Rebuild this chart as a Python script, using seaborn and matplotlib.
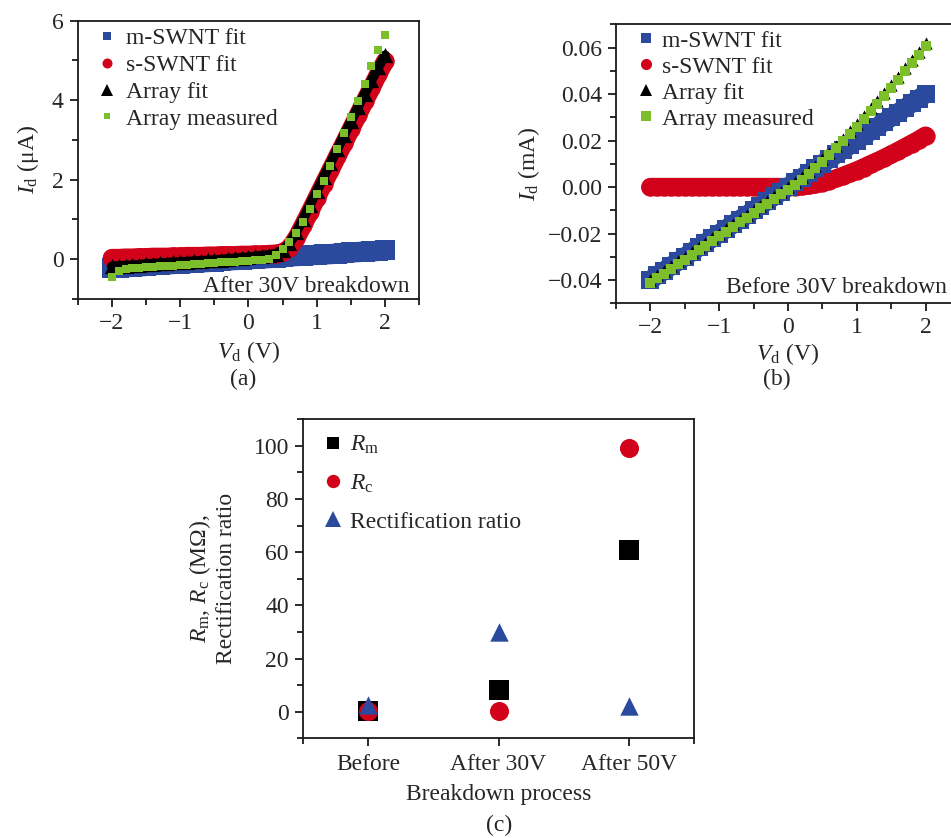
import numpy as np
import pandas as pd
import matplotlib
matplotlib.use('Agg')
import matplotlib.pyplot as plt
import seaborn as sns
from matplotlib.lines import Line2D
from matplotlib.ticker import FixedLocator

# ---------------- data ----------------
VD = [-2.0, -1.9, -1.8, -1.7, -1.6, -1.5, -1.4, -1.3, -1.2, -1.1,
      -1.0, -0.9, -0.8, -0.7, -0.6, -0.5, -0.4, -0.3, -0.2, -0.1,
      0.0, 0.1, 0.2, 0.3, 0.4, 0.5, 0.6, 0.7, 0.8, 0.9,
      1.0, 1.1, 1.2, 1.3, 1.4, 1.5, 1.6, 1.7, 1.8, 1.9, 2.0]

# panel (a): after 30V breakdown, current in uA
A_M_SWNT = [-0.22, -0.21, -0.20, -0.19, -0.18, -0.17, -0.15, -0.14, -0.13, -0.12,
            -0.11, -0.10, -0.09, -0.08, -0.07, -0.06, -0.04, -0.03, -0.02, -0.01,
            0.00, 0.01, 0.02, 0.03, 0.04, 0.06, 0.07, 0.08, 0.09, 0.10,
            0.11, 0.12, 0.13, 0.14, 0.15, 0.17, 0.18, 0.19, 0.20, 0.21, 0.22]
A_S_SWNT = [0.03, 0.03, 0.04, 0.04, 0.05, 0.05, 0.06, 0.06, 0.06, 0.07,
            0.07, 0.08, 0.08, 0.08, 0.09, 0.09, 0.10, 0.10, 0.10, 0.11,
            0.11, 0.12, 0.12, 0.13, 0.14, 0.17, 0.28, 0.53, 0.86, 1.20,
            1.55, 1.90, 2.24, 2.59, 2.93, 3.28, 3.62, 3.97, 4.31, 4.66, 4.98]
A_ARRAY_FIT = [-0.18, -0.17, -0.16, -0.15, -0.14, -0.12, -0.11, -0.10, -0.09, -0.08,
               -0.07, -0.06, -0.05, -0.04, -0.03, -0.02, -0.01, 0.01, 0.02, 0.04,
               0.05, 0.07, 0.09, 0.11, 0.14, 0.22, 0.40, 0.68, 1.02, 1.37,
               1.72, 2.07, 2.42, 2.77, 3.12, 3.47, 3.82, 4.16, 4.50, 4.83, 5.13]
A_ARRAY_MEAS = [-0.44, -0.30, -0.25, -0.23, -0.22, -0.20, -0.19, -0.18, -0.17, -0.16,
                -0.15, -0.14, -0.12, -0.11, -0.10, -0.09, -0.08, -0.07, -0.06, -0.05,
                -0.04, -0.03, -0.02, 0.00, 0.10, 0.25, 0.44, 0.67, 0.94, 1.27,
                1.65, 1.96, 2.34, 2.78, 3.17, 3.57, 3.99, 4.40, 4.85, 5.26, 5.64]

# panel (b): before 30V breakdown, current in mA
B_M_SWNT = [-0.040, -0.038, -0.036, -0.034, -0.032, -0.030, -0.028, -0.026, -0.024, -0.022,
            -0.020, -0.018, -0.016, -0.014, -0.012, -0.010, -0.008, -0.006, -0.004, -0.002,
            0.000, 0.002, 0.004, 0.006, 0.008, 0.010, 0.012, 0.014, 0.016, 0.018,
            0.020, 0.022, 0.024, 0.026, 0.028, 0.030, 0.032, 0.034, 0.036, 0.038, 0.040]
B_S_SWNT = [0.0, 0.0, 0.0, 0.0, 0.0, 0.0, 0.0, 0.0, 0.0, 0.0,
            0.0, 0.0, 0.0, 0.0, 0.0, 0.0, 0.0, 0.0, 0.0, 0.0,
            0.0, 0.0001, 0.0003, 0.0007, 0.0012, 0.0019, 0.0028, 0.0037, 0.0048, 0.0059,
            0.0071, 0.0084, 0.0098, 0.0111, 0.0125, 0.0140, 0.0155, 0.0171, 0.0187, 0.0203, 0.0221]
B_ARRAY_FIT = [-0.040, -0.038, -0.036, -0.034, -0.032, -0.030, -0.028, -0.026, -0.024, -0.022,
               -0.020, -0.018, -0.016, -0.014, -0.012, -0.010, -0.008, -0.006, -0.004, -0.002,
               0.000, 0.0021, 0.0043, 0.0067, 0.0092, 0.0119, 0.0148, 0.0177, 0.0208, 0.0239,
               0.0271, 0.0304, 0.0338, 0.0371, 0.0405, 0.0440, 0.0475, 0.0511, 0.0547, 0.0583, 0.0621]
B_ARRAY_MEAS = [-0.0413, -0.0393, -0.0373, -0.0353, -0.0333, -0.0312, -0.0292, -0.0272, -0.0252, -0.0232,
                -0.0212, -0.0192, -0.0172, -0.0152, -0.0132, -0.0112, -0.0092, -0.0072, -0.0052, -0.0032,
                -0.0012, 0.0010, 0.0032, 0.0056, 0.0081, 0.0108, 0.0137, 0.0166, 0.0196, 0.0227,
                0.0259, 0.0292, 0.0325, 0.0358, 0.0392, 0.0426, 0.0461, 0.0497, 0.0533, 0.0569, 0.0605]

# panel (c)
STAGES = ["Before", "After 30V", "After 50V"]
R_M = [0.3, 8.1, 61.0]
R_C = [0.3, 0.1, 99.2]
RECT_RATIO = [2.4, 30.1, 2.3]

SERIES_LABELS = ["m-SWNT fit", "s-SWNT fit", "Array fit", "Array measured"]

# ---------------- style ----------------
BLUE = '#2b4a9e'
RED = '#d1021a'
GREEN = '#7dbf2b'
BLACK = '#000000'
SPINE = '#1a1a1a'
FS = 17

sns.set_style('ticks')
plt.rcParams['font.family'] = ['Liberation Serif', 'DejaVu Serif']
plt.rcParams['mathtext.fontset'] = 'custom'
plt.rcParams['mathtext.rm'] = 'Liberation Serif'
plt.rcParams['mathtext.it'] = 'Liberation Serif:italic'
plt.rcParams['axes.unicode_minus'] = True

fig = plt.figure(figsize=(9.51, 8.38), dpi=100)
axa = fig.add_axes([0.0817, 0.6432, 0.3592, 0.3321])
axb = fig.add_axes([0.6477, 0.6381, 0.3617, 0.3329])
axc = fig.add_axes([0.3183, 0.1190, 0.4118, 0.3806])


def style(ax):
    for s in ax.spines.values():
        s.set_visible(True)
        s.set_linewidth(1.3)
        s.set_color(SPINE)
    ax.tick_params(which='major', direction='out', length=6, width=1.3,
                   labelsize=FS, pad=4, top=False, right=False, color=SPINE)
    ax.tick_params(which='minor', direction='out', length=4, width=1.3,
                   top=False, right=False, color=SPINE)
    ax.set_facecolor('white')


def band(ax, y, color, lw, cap, z):
    sns.lineplot(x=VD, y=y, ax=ax, color=color, linewidth=lw, sort=False,
                 estimator=None, legend=False, zorder=z,
                 solid_capstyle=cap, solid_joinstyle='round')


def iv_panel(ax, m, s, fit, meas, sizes, zm, zs, black_line):
    band(ax, m, BLUE, sizes[0] ** 0.5, 'butt', zm)
    sns.scatterplot(x=VD, y=m, ax=ax, marker='s', s=sizes[0], color=BLUE,
                    linewidth=0, legend=False, zorder=zm)
    band(ax, s, RED, sizes[1] ** 0.5, 'round', zs)
    sns.scatterplot(x=VD, y=s, ax=ax, marker='o', s=sizes[1], color=RED,
                    linewidth=0, legend=False, zorder=zs)
    if black_line:
        band(ax, fit, BLACK, black_line, 'round', 4)
    sns.scatterplot(x=VD, y=fit, ax=ax, marker='^', s=sizes[2], color=BLACK,
                    linewidth=0, legend=False, zorder=4)
    sns.scatterplot(x=VD, y=meas, ax=ax, marker='s', s=sizes[3], color=GREEN,
                    linewidth=0, legend=False, zorder=5)


# ---- (a)
iv_panel(axa, A_M_SWNT, A_S_SWNT, A_ARRAY_FIT, A_ARRAY_MEAS, [215, 175, 120, 34],
         2, 3, 7)
style(axa)
axa.set_xlim(-2.5, 2.5)
axa.set_ylim(-1, 6)
axa.xaxis.set_major_locator(FixedLocator([-2, -1, 0, 1, 2]))
axa.xaxis.set_minor_locator(FixedLocator([-2.5, -1.5, -0.5, 0.5, 1.5, 2.5]))
axa.yaxis.set_major_locator(FixedLocator([0, 2, 4, 6]))
axa.yaxis.set_minor_locator(FixedLocator([-1, 1, 3, 5]))
axa.set_xlabel(r'$V_{\rm d}$ (V)', fontsize=FS, labelpad=4)
axa.set_ylabel(r'$I_{\rm d}$ (μA)', fontsize=FS, labelpad=8)
axa.text(0.971, 0.024, 'After 30V breakdown', transform=axa.transAxes,
         ha='right', va='baseline', fontsize=FS, zorder=10)
ha = [Line2D([], [], marker='s', color=BLUE, ls='none', markersize=5.8, markeredgewidth=0),
      Line2D([], [], marker='o', color=RED, ls='none', markersize=7.2, markeredgewidth=0),
      Line2D([], [], marker='^', color=BLACK, ls='none', markersize=9, markeredgewidth=0),
      Line2D([], [], marker='s', color=GREEN, ls='none', markersize=5, markeredgewidth=0)]
axa.legend(ha, SERIES_LABELS, loc='upper left', bbox_to_anchor=(0.051, 0.974),
           frameon=False, borderpad=0, borderaxespad=0, handlelength=1.0,
           handletextpad=0.30, labelspacing=0.22, fontsize=FS)

# ---- (b)
iv_panel(axb, B_M_SWNT, B_S_SWNT, B_ARRAY_FIT, B_ARRAY_MEAS, [185, 175, 78, 44],
         3, 2, 0)
style(axb)
axb.set_xlim(-2.5, 2.5)
axb.set_ylim(-0.05, 0.07)
axb.xaxis.set_major_locator(FixedLocator([-2, -1, 0, 1, 2]))
axb.xaxis.set_minor_locator(FixedLocator([-2.5, -1.5, -0.5, 0.5, 1.5, 2.5]))
axb.yaxis.set_major_locator(FixedLocator([-0.04, -0.02, 0.0, 0.02, 0.04, 0.06]))
axb.yaxis.set_minor_locator(FixedLocator([-0.05, -0.03, -0.01, 0.01, 0.03, 0.05, 0.07]))
axb.yaxis.set_major_formatter(plt.FuncFormatter(lambda v, p: f'{v:.2f}'.replace('-', '\u2212')))
axb.set_xlabel(r'$V_{\rm d}$ (V)', fontsize=FS, labelpad=2)
axb.set_ylabel(r'$I_{\rm d}$ (mA)', fontsize=FS, labelpad=4)
axb.text(0.961, 0.036, 'Before 30V breakdown', transform=axb.transAxes,
         ha='right', va='baseline', fontsize=FS, zorder=10)
hb = [Line2D([], [], marker='s', color=BLUE, ls='none', markersize=7.4, markeredgewidth=0),
      Line2D([], [], marker='o', color=RED, ls='none', markersize=8, markeredgewidth=0),
      Line2D([], [], marker='^', color=BLACK, ls='none', markersize=8.9, markeredgewidth=0),
      Line2D([], [], marker='s', color=GREEN, ls='none', markersize=6.7, markeredgewidth=0)]
axb.legend(hb, SERIES_LABELS, loc='upper left', bbox_to_anchor=(0.053, 0.979),
           frameon=False, borderpad=0, borderaxespad=0, handlelength=1.0,
           handletextpad=0.18, labelspacing=0.19, fontsize=FS)

# ---- (c)
dfc = pd.DataFrame({'stage': STAGES, 'Rm': R_M, 'Rc': R_C, 'RR': RECT_RATIO})
xpos = list(range(len(STAGES)))
sns.scatterplot(x=xpos, y=dfc['Rm'], ax=axc, marker='s', s=222, color=BLACK,
                linewidth=0, legend=False, zorder=3)
sns.scatterplot(x=xpos, y=dfc['Rc'], ax=axc, marker='o', s=188, color=RED,
                linewidth=0, legend=False, zorder=4)
sns.scatterplot(x=xpos, y=dfc['RR'], ax=axc, marker='^', s=175, color=BLUE,
                linewidth=0, legend=False, zorder=5)
style(axc)
axc.set_xlim(-0.5, 2.5)
axc.set_ylim(-10, 110)
axc.xaxis.set_major_locator(FixedLocator(xpos))
axc.set_xticklabels(STAGES)
axc.xaxis.set_minor_locator(FixedLocator([-0.5, 2.5]))
axc.yaxis.set_major_locator(FixedLocator([0, 20, 40, 60, 80, 100]))
axc.yaxis.set_minor_locator(FixedLocator([-10, 10, 30, 50, 70, 90, 110]))
axc.tick_params(axis='x', which='major', pad=5)
axc.set_xlabel('Breakdown process', fontsize=FS, labelpad=7)
axc.set_ylabel(r'$R_{\rm m}$, $R_{\rm c}$ (MΩ),' + '\n' + 'Rectification ratio',
               fontsize=FS, labelpad=12, linespacing=1.15)
hc = [Line2D([], [], marker='s', color=BLACK, ls='none', markersize=8.4, markeredgewidth=0),
      Line2D([], [], marker='o', color=RED, ls='none', markersize=9.6, markeredgewidth=0),
      Line2D([], [], marker='^', color=BLUE, ls='none', markersize=12, markeredgewidth=0)]
axc.legend(hc, [r'$R_{\rm m}$', r'$R_{\rm c}$', 'Rectification ratio'],
           loc='upper left', bbox_to_anchor=(0.046, 0.954), frameon=False,
           borderpad=0, borderaxespad=0, handlelength=1.0, handletextpad=0.26,
           labelspacing=0.69, fontsize=FS)

fig.text(243 / 951, 1 - 379 / 838, '(a)', ha='center', va='center', fontsize=FS)
fig.text(777 / 951, 1 - 379 / 838, '(b)', ha='center', va='center', fontsize=FS)
fig.text(499 / 951, 1 - 825 / 838, '(c)', ha='center', va='center', fontsize=FS)

fig.savefig('out.png', dpi=100, facecolor='white')
